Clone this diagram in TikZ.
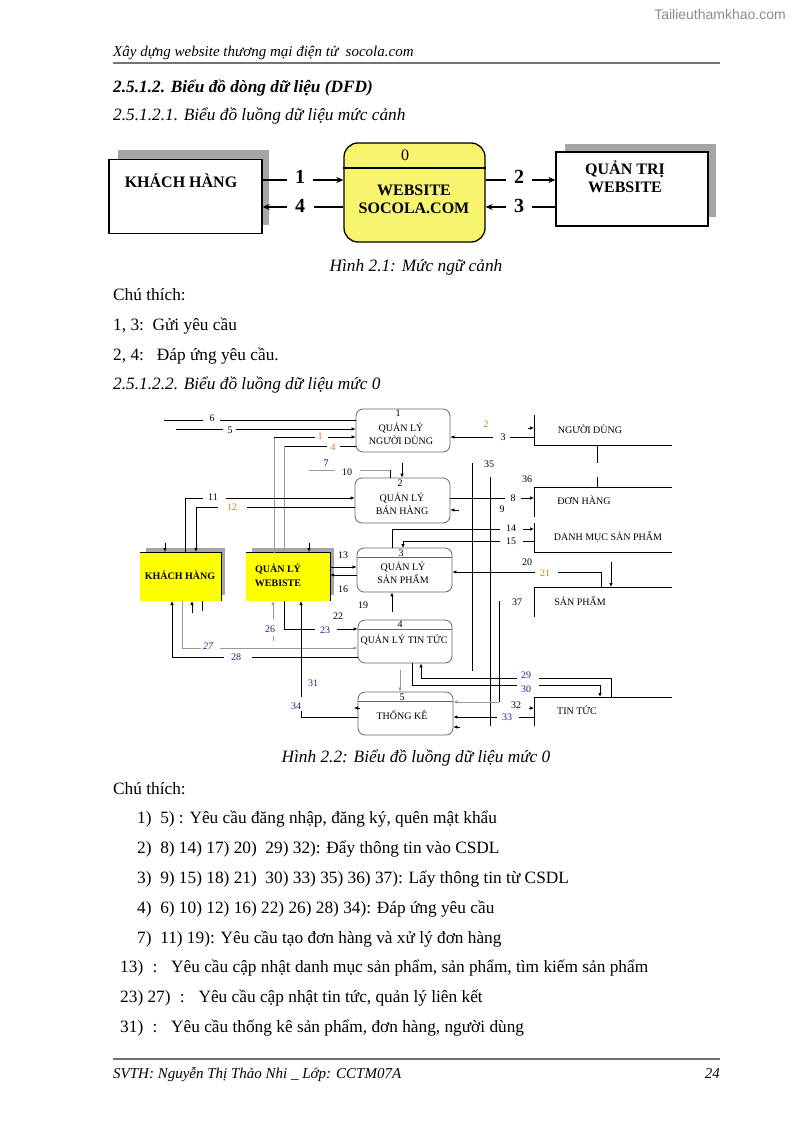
\documentclass[tikz,border=0pt]{standalone}
\usepackage{fontspec}
\setmainfont{Liberation Serif}
\newfontfamily\wmfont{Liberation Sans}
\usetikzlibrary{arrows.meta}
\definecolor{ylA}{RGB}{248,244,110}
\definecolor{ylB}{RGB}{255,255,0}
\definecolor{shd}{RGB}{165,165,165}
\definecolor{orn}{RGB}{215,125,40}
\definecolor{dblue}{RGB}{30,40,120}
\newcommand{\myBody}{\fontsize{17.3}{20}\selectfont}
\newcommand{\myHdr}{\fontsize{15}{18}\selectfont}
\newcommand{\myDg}{\fontsize{10}{11}\selectfont}
\newcommand{\myBig}{\fontsize{16}{18}\selectfont}
\newcommand{\myNum}{\fontsize{20}{22}\selectfont}
\begin{document}
\begin{tikzpicture}[x=1pt,y=-1pt,
  txt/.style={inner sep=0pt, anchor=base west, font=\myBody},
  ctxt/.style={inner sep=0pt, anchor=base, font=\myBody\itshape},
  d1/.style={line width=1.4pt},
  d1a/.style={line width=1.4pt, -{Stealth[length=7pt,width=6pt]}},
  bl/.style={inner sep=0pt, anchor=base, font=\myBig\bfseries},
  nm/.style={inner sep=0pt, anchor=base, font=\myNum\bfseries},
  proc/.style={draw=black!60, line width=0.8pt, rounded corners=7pt},
  ent/.style={fill=ylB, inner sep=0pt},
  lb/.style={inner sep=0pt, anchor=base, font=\myDg},
  lbb/.style={inner sep=0pt, anchor=base, font=\myDg\bfseries},
  ln/.style={line width=0.7pt},
  gl/.style={line width=0.7pt, black!40},
  la/.style={line width=0.7pt, -{Latex[length=4pt,width=3.5pt]}},
  gla/.style={line width=0.7pt, black!40, -{Latex[length=4pt,width=3.5pt]}},
  tip/.style={line width=0.5pt, -{Latex[length=4pt,width=3.5pt]}}
]
\useasboundingbox (0,0) rectangle (794,1123);
\fill[white] (0,0) rectangle (794,1123);

% watermark and header
\node[anchor=base east, inner sep=0pt, font=\wmfont\fontsize{14}{16}\selectfont, text=black!45] (wm) at (786,20) {Tailieuthamkhao.com};
\node[inner sep=0pt, anchor=base west, font=\myHdr\itshape] (hdr) at (113,57) {Xây dựng website thương mại điện tử~~socola.com};
\draw[line width=2pt, black!55] (113,63.5) -- (720,63.5);

\node[txt, font=\myBody\bfseries\itshape] (h1) at (113,93) {2.5.1.2. Biểu đồ dòng dữ liệu (DFD)};
\node[txt, font=\myBody\itshape] (h2) at (113,121) {2.5.1.2.1. Biểu đồ luồng dữ liệu mức cảnh};

% ---------- Diagram 1 ----------
\fill[shd] (118,150) rectangle (269,225);
\node[draw, fill=white, line width=1.3pt, minimum width=153, minimum height=74, inner sep=0pt] (kh) at (185.5,196.5) {};
\node[bl] (khl) at (181,188) {KHÁCH HÀNG};

\node[draw, fill=ylA, rounded corners=14pt, line width=1.3pt, minimum width=141, minimum height=99, inner sep=0pt] (web) at (414.5,192.5) {};
\draw[line width=1.3pt] (web.west |- 0,168) -- (web.east |- 0,168);
\node[inner sep=0pt, anchor=base, font=\myBig] (w0) at (405,161) {0};
\node[bl] (w1) at (414,196) {WEBSITE};
\node[bl] (w2) at (414,214) {SOCOLA.COM};

\fill[shd] (565,144) rectangle (716,217);
\node[draw, fill=white, line width=1.3pt, minimum width=152, minimum height=74, inner sep=0pt] (qt) at (632,189) {};
\node[bl] (qt1) at (625,175) {QUẢN TRỊ};
\node[bl] (qt2) at (625,193) {WEBSITE};

\draw[d1] (kh.east |- 0,180) -- (287,180);
\node[nm] (a1) at (300,184) {1};
\draw[d1a] (313,180) -- (web.west |- 0,180);
\draw[d1a] (287,207) -- (kh.east |- 0,207);
\node[nm] (a4) at (300,213) {4};
\draw[d1] (web.west |- 0,207) -- (314,207);
\draw[d1] (web.east |- 0,180) -- (506,180);
\node[nm] (a2) at (519,184) {2};
\draw[d1a] (532,180) -- (qt.west |- 0,180);
\draw[d1] (qt.west |- 0,207) -- (532,207);
\node[nm] (a3) at (519,213) {3};
\draw[d1a] (506,207) -- (web.east |- 0,207);

\node[ctxt] (cap1) at (416,271) {Hình 2.1: Mức ngữ cảnh};

\node[txt] (ct1) at (113,300) {Chú thích:};
\node[txt] (ct2) at (113,330) {1, 3:~~Gửi yêu cầu};
\node[txt] (ct3) at (113,360) {2, 4:~~~Đáp ứng yêu cầu.};
\node[txt, font=\myBody\itshape] (h3) at (113,389) {2.5.1.2.2. Biểu đồ luồng dữ liệu mức 0};

% ---------- Diagram 2 ----------
% shadows
\fill[shd] (146,548) rectangle (225,595);
\fill[shd] (252,548) rectangle (334,595);
\node[ent, minimum width=81, minimum height=48] (kh2) at (180.5,577) {};
\draw[ln] (kh2.north west) -- (kh2.north east) -- (kh2.south east);
\node[lbb] (kh2l) at (180,579.5) {KHÁCH HÀNG};
\node[ent, minimum width=84, minimum height=48] (qlw) at (288,577) {};
\draw[ln] (qlw.north west) -- (qlw.north east) -- (qlw.south east);
\node[lbb] (qlw1) at (278,572.5) {QUẢN LÝ};
\node[lbb] (qlw2) at (278,586.5) {WEBISTE};

% processes
\node[proc, minimum width=94, minimum height=43] (p1) at (403,430.5) {};
\node[lb] (p1a) at (398,416.5) {1};
\node[lb] (p1b) at (401,431.5) {QUẢN LÝ};
\node[lb] (p1c) at (401,444.5) {NGƯỜI DÙNG};

\node[proc, minimum width=95, minimum height=45] (p2) at (402.5,500.5) {};
\node[lb] (p2a) at (400,486.5) {2};
\node[lb] (p2b) at (402,501.5) {QUẢN LÝ};
\node[lb] (p2c) at (402,514.5) {BÁN HÀNG};

\node[proc, minimum width=95, minimum height=44] (p3) at (404.5,570) {};
\draw[black!60, line width=0.8pt] (p3.west |- 0,557) -- (p3.east |- 0,557);
\node[lb] (p3a) at (401,556) {3};
\node[lb] (p3b) at (403,570.5) {QUẢN LÝ};
\node[lb] (p3c) at (403,583.5) {SẢN PHẨM};

\node[proc, minimum width=94, minimum height=43] (p4) at (405,641.5) {};
\draw[black!60, line width=0.8pt] (p4.west |- 0,629) -- (p4.east |- 0,629);
\node[lb] (p4a) at (400,627.5) {4};
\node[lb] (p4b) at (404,643.5) {QUẢN LÝ TIN TỨC};

\node[proc, minimum width=95, minimum height=43] (p5) at (405.5,713.5) {};
\draw[black!60, line width=0.8pt] (p5.west |- 0,701) -- (p5.east |- 0,701);
\node[lb] (p5a) at (402,700) {5};
\node[lb] (p5b) at (402,719.5) {THỐNG KÊ};

% data stores
\draw[ln] (534,415) -- (534,445) -- (672,445);
\node[lb] (s1) at (590,433.5) {NGƯỜI DÙNG};
\draw[ln] (672,487) -- (534,487) -- (534,517);
\node[lb] (s2) at (584,504.5) {ĐƠN HÀNG};
\draw[ln] (534,523) -- (534,552) -- (672,552);
\node[lb] (s3) at (608,540.5) {DANH MỤC SẢN PHẨM};
\draw[ln] (672,587) -- (534,587) -- (534,617);
\node[lb] (s4) at (580,605.5) {SẢN PHẨM};
\draw[ln] (672,697) -- (534,697) -- (534,726);
\node[lb] (s5) at (577,714.5) {TIN TỨC};
\draw[ln] (597,445) -- (597,463);
\draw[ln] (597,477) -- (597,487);

% flows
\draw[ln] (164,420) -- (203,420);
\node[lb] (f6) at (212,421.5) {6};
\draw[ln] (220,420) -- (p1.west |- 0,420);

\draw[ln] (176,429) -- (223,429);
\node[lb] (f5) at (230,433) {5};
\draw[la] (236,429) -- (p1.west |- 0,429);

\draw[gl] (274,553) -- (274,437);
\draw[ln] (274,437) -- (315,437);
\node[lb, text=orn] (f1) at (320,439.5) {1};
\draw[la] (328,437) -- (p1.west |- 0,437);

\draw[ln] (p1.west |- 0,446) -- (340,446);
\node[lb, text=orn] (f4) at (333,450.5) {4};
\draw[ln] (327,446) -- (284,446);
\draw[gla] (284,446) -- (284,552);

\draw[la] (402,463) -- (p2.north -| 402,0);

\draw[gl] (309,470) -- (335,470);
\node[lb] (f7) at (326,466.5) {7};
\node[lb] (f10) at (347,475.5) {10};
\draw[gl] (360,470) -- (390,470);
\draw[ln] (390,470) -- (390,478);

\draw[ln] (185,553) -- (185,498) -- (203,498);
\node[lb] (f11) at (213,500.5) {11};
\draw[la] (226,498) -- (p2.west |- 0,498);

\draw[ln] (p2.west |- 0,507) -- (247,507);
\node[lb, text=orn] (f12) at (232,510.5) {12};
\draw[la] (218,507) -- (196,507) -- (196,552);

\draw[tip] (165,543) -- (165,552);
\draw[tip] (309,543) -- (309,552);

\draw[tip] (528,428) -- (534,428);
\node[lb, text=orn] (f2) at (486,427.5) {2};
\draw[ln] (534,437) -- (510,437);
\node[lb] (f3) at (503,440.5) {3};
\draw[la] (493,437) -- (p1.east |- 0,437);

\draw[ln] (p2.east |- 0,498) -- (505,498);
\node[lb] (f8) at (513,501) {8};
\draw[la] (521,498) -- (534,498);
\node[lb] (f9) at (502,512.5) {9};
\draw[tip] (459,510) -- (p2.east |- 0,510);

\draw[ln] (472,463) -- (472,671);
\node[lb] (f35) at (489,467.5) {35};
\draw[ln] (490,477) -- (490,726);
\node[lb] (f36) at (527,482.5) {36};

\draw[ln] (392,548) -- (392,529) -- (500,529);
\node[lb] (f14) at (511,531.5) {14};
\draw[la] (523,529) -- (534,529);
\draw[ln] (534,541) -- (523,541);
\node[lb] (f15) at (511,544.5) {15};
\draw[la] (500,541) -- (403,541) -- (403,548);

\draw[la] (qlw.east |- 0,567) -- (p3.west |- 0,567);
\node[lb] (f13) at (343,558.5) {13};
\draw[la] (p3.west |- 0,575) -- (qlw.east |- 0,575);
\node[lb] (f16) at (343,592.5) {16};

\node[lb] (f20) at (527,565.5) {20};
\draw[ln] (601,587) -- (601,572) -- (558,572);
\node[lb, text=orn] (f21) at (545,576.5) {21};
\draw[la] (535,572) -- (p3.east |- 0,572);
\draw[la] (611,562) -- (611,587);

\node[lb] (f37) at (517,605.5) {37};
\draw[ln] (499,601) -- (499,702);
\draw[gla] (499,702) -- (p5.east |- 0,702);

\node[lb] (f19) at (363,608.5) {19};
\draw[la] (392,612) -- (p3.south -| 392,0);
\node[lb] (f22) at (338,619.5) {22};

\draw[ln] (284,601) -- (284,629) -- (315,629);
\node[lb, text=dblue] (f23) at (325,633) {23};
\draw[la] (337,629) -- (p4.west |- 0,629);

\draw[gla] (273,619) -- (273,601);
\node[lb, text=dblue] (f26) at (270,632.5) {26};
\draw[gl] (273,636) -- (273,641);

\draw[gl] (182,601) -- (182,648) -- (201,648);
\node[lb, text=dblue, font=\myDg\itshape] (f27) at (208,649.5) {27};
\draw[gla] (220,648) -- (p4.west |- 0,648);

\draw[ln] (p4.west |- 0,657) -- (252,657);
\node[lb, text=dblue] (f28) at (236,660.5) {28};
\draw[la] (224,657) -- (172,657) -- (172,601);

\draw[la] (192,613) -- (192,601);
\draw[ln] (202,601) -- (202,611);

\draw[ln] (p5.west |- 0,717) -- (301,717) -- (301,711);
\node[lb, text=dblue] (f34) at (296,709.5) {34};
\draw[la] (301,697) -- (301,601);
\node[lb, text=dblue] (f31) at (313,686.5) {31};
\draw[tip] (360,708) -- (354,708);

\draw[gla] (400,670) -- (p5.north -| 400,0);

\draw[ln] (611,697) -- (611,678) -- (539,678);
\node[lb, text=dblue] (f29) at (526,678.5) {29};
\draw[la] (517,678) -- (421,678) -- (p4.south -| 421,0);
\draw[ln] (412,663) -- (412,685) -- (517,685);
\node[lb, text=dblue] (f30) at (526,692.5) {30};
\draw[la] (539,685) -- (600,685) -- (600,697);

\node[lb] (f32) at (516,708.5) {32};
\draw[tip] (529,708) -- (534,708);
\draw[ln] (534,717) -- (519,717);
\node[lb, text=dblue] (f33) at (507,720.5) {33};
\draw[la] (497,717) -- (p5.east |- 0,717);
\draw[tip] (460,727) -- (p5.east |- 0,727);

\node[ctxt] (cap2) at (416,762) {Hình 2.2: Biểu đồ luồng dữ liệu mức 0};

\node[txt] (ct4) at (113,794) {Chú thích:};
\node[txt] (l1) at (137,823) {1)~~5) : Yêu cầu đăng nhập, đăng ký, quên mật khẩu};
\node[txt] (l2) at (137,853) {2)~~8) 14) 17) 20)~~29) 32): Đẩy thông tin vào CSDL};
\node[txt] (l3) at (137,883) {3)~~9) 15) 18) 21)~~30) 33) 35) 36) 37): Lấy thông tin từ CSDL};
\node[txt] (l4) at (137,913) {4)~~6) 10) 12) 16) 22) 26) 28) 34): Đáp ứng yêu cầu};
\node[txt] (l5) at (137,943) {7)~~11) 19): Yêu cầu tạo đơn hàng và xử lý đơn hàng};
\node[txt] (l6) at (120,972) {13)\hspace{5pt} :\hspace{8pt} Yêu cầu cập nhật danh mục sản phẩm, sản phẩm, tìm kiếm sản phẩm};
\node[txt] (l7) at (120,1002) {23) 27)\hspace{5pt} :\hspace{8pt} Yêu cầu cập nhật tin tức, quản lý liên kết};
\node[txt] (l8) at (120,1032) {31)\hspace{5pt} :\hspace{8pt} Yêu cầu thống kê sản phẩm, đơn hàng, người dùng};

% footer
\draw[line width=2pt, black!55] (113,1059) -- (720,1059);
\node[inner sep=0pt, anchor=base west, font=\myHdr\itshape] (ft) at (113,1078) {SVTH: Nguyễn Thị Thảo Nhi \_ Lớp: CCTM07A};
\node[inner sep=0pt, anchor=base east, font=\myHdr\itshape] (pg) at (720,1078) {24};
\end{tikzpicture}
\end{document}
